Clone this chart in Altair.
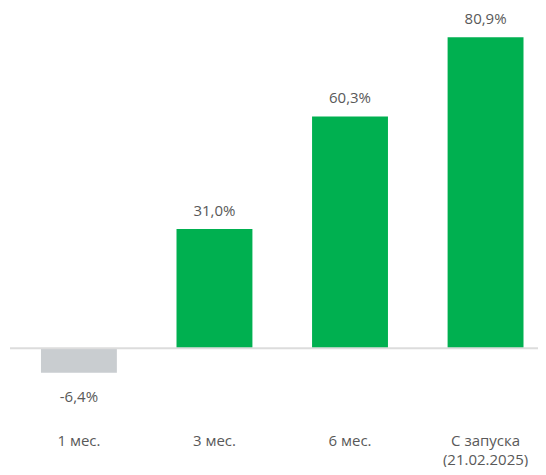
import altair as alt
import pandas as pd

categories = ["1 мес.", "3 мес.", "6 мес.", "С запуска\n(21.02.2025)"]
values = [-6.4, 31.0, 60.3, 80.9]
colors = ["#c9cdd0", "#00b050", "#00b050", "#00b050"]

df = pd.DataFrame({
    "cat": categories,
    "val": values,
    "color": colors,
    "label": [f"{v:.1f}".replace(".", ",") + "%" for v in values],
})

FONT = "Open Sans"
TXT = "#595959"
DOMAIN = [-30.9, 88.5]

x = alt.X("cat:N", sort=categories,
          scale=alt.Scale(paddingInner=0.44, paddingOuter=0.164, align=0.674),
          axis=alt.Axis(title=None, domain=False, ticks=False, labelAngle=0,
                        offset=-34, labelPadding=0, labelFontSize=15,
                        labelColor=TXT, labelFont=FONT, labelLineHeight=19,
                        labelExpr="split(datum.label, '\\n')"))
y = alt.Y("val:Q", scale=alt.Scale(domain=DOMAIN, nice=False, zero=False),
          axis=None)

base = alt.Chart(df)
bars = base.mark_bar().encode(x=x, y=y, y2=alt.datum(0),
                              color=alt.Color("color:N", scale=None))
pos_lbl = base.transform_filter("datum.val >= 0").mark_text(
    baseline="alphabetic", dy=-13, fontSize=15, font=FONT, color=TXT
).encode(x=x, y=y, text="label:N")
neg_lbl = base.transform_filter("datum.val < 0").mark_text(
    baseline="alphabetic", dy=29, fontSize=15, font=FONT, color=TXT
).encode(x=x, y=y, text="label:N")
rule = alt.Chart(pd.DataFrame({"z": [0]})).mark_rule(
    color="#dcdcdc", strokeWidth=2
).encode(y=alt.Y("z:Q", scale=alt.Scale(domain=DOMAIN, nice=False, zero=False), axis=None),
         x=alt.value(-1), x2=alt.value(530))

chart = alt.layer(bars, rule, pos_lbl, neg_lbl).properties(
    width=527, height=459,
    padding={"left": 3, "top": 0, "right": 0, "bottom": 0},
    autosize=alt.AutoSizeParams(type="none"),
).configure_view(stroke=None)

chart.save("out.html", embed_options={"renderer": "svg", "actions": False})
